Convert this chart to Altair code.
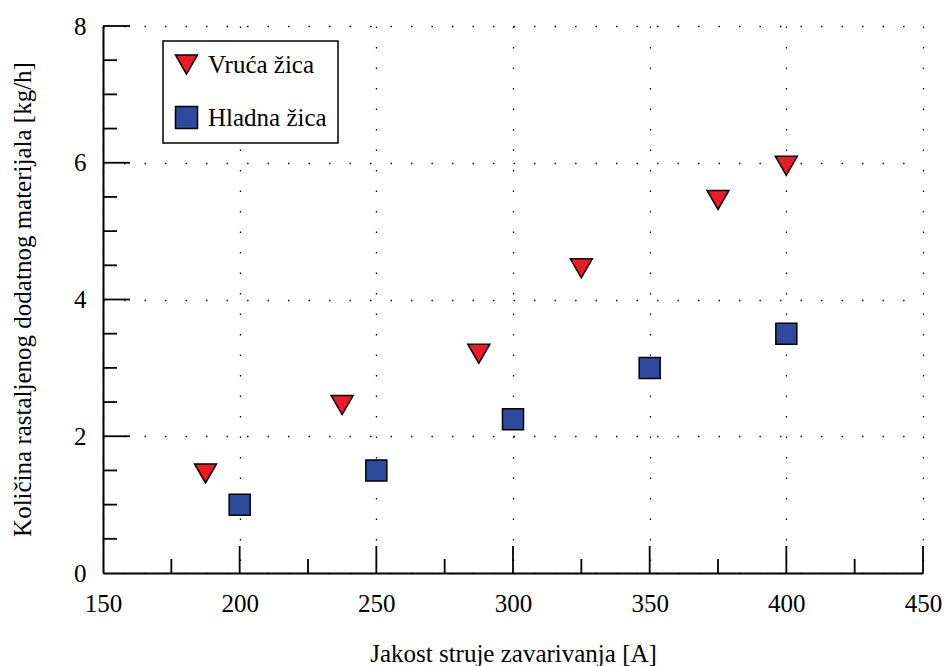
import altair as alt
import pandas as pd

# ---- data ----
hot_label = "Vruća žica"
cold_label = "Hladna žica"
hot_x = [187.5, 237.5, 287.5, 325, 375, 400]
hot_y = [1.5, 2.5, 3.25, 4.5, 5.5, 6.0]
cold_x = [200, 250, 300, 350, 400]
cold_y = [1.0, 1.5, 2.25, 3.0, 3.5]

x_major = [200, 250, 300, 350, 400, 450]
x_minor = [175, 225, 275, 325, 375, 425]
y_major = [2, 4, 6, 8]
y_minor = [0.5, 1, 1.5, 2.5, 3, 3.5, 4.5, 5, 5.5, 6.5, 7, 7.5]
x_labels = [150, 200, 250, 300, 350, 400, 450]
y_labels = [0, 2, 4, 6, 8]

x_title = "Jakost struje zavarivanja [A]"
y_title = "Količina rastaljenog dodatnog materijala [kg/h]"

FONT = "Liberation Serif"
W, H = 820, 547

hot = pd.DataFrame({"x": hot_x, "y": hot_y, "s": hot_label})
cold = pd.DataFrame({"x": cold_x, "y": cold_y, "s": cold_label})

xs = alt.Scale(domain=[150, 450], nice=False, zero=False)
ys = alt.Scale(domain=[0, 8], nice=False, zero=False)

dom = [hot_label, cold_label]
fill_scale = alt.Scale(domain=dom, range=["#ED1C24", "#2E4A9E"])
stroke_scale = alt.Scale(domain=dom, range=["black", "black"])
shape_scale = alt.Scale(domain=dom, range=["triangle-down", "square"])

legend = alt.Legend(
    title=None, orient="none", legendX=60, legendY=15,
    labelFont=FONT, labelFontSize=25, labelColor="black",
    symbolSize=484, symbolStrokeWidth=1.5,
    symbolOpacity=1, labelOffset=9, padding=11, rowPadding=25,
    strokeColor="black", fillColor="white",
)

x_axis = alt.Axis(
    values=x_labels, title=x_title, tickSize=0, labelPadding=18,
    labelFlush=False, labelOverlap=False,
    grid=True, gridDash=[1.5, 19], gridColor="black", gridWidth=1.3, gridOpacity=1,
    domainColor="black", domainWidth=2,
    labelFont=FONT, labelFontSize=25, labelColor="black",
    titleFont=FONT, titleFontSize=25, titleFontWeight="normal", titleColor="black",
    titleBaseline="alphabetic", titleY=88, titleX=W / 2, titleAnchor="middle",
)
y_axis = alt.Axis(
    values=y_labels, title=y_title, tickSize=0, labelPadding=17,
    labelFlush=False, labelOverlap=False,
    grid=True, gridDash=[1.5, 19], gridColor="black", gridWidth=1.3, gridOpacity=1,
    domainColor="black", domainWidth=2,
    labelFont=FONT, labelFontSize=25, labelColor="black",
    titleFont=FONT, titleFontSize=25, titleFontWeight="normal", titleColor="black",
    titleBaseline="alphabetic", titleX=-73, titleY=273, titleAngle=270,
    titleAnchor="middle",
)

def points(df, size, yoff):
    return alt.Chart(df).mark_point(
        filled=True, size=size, strokeWidth=1.5, opacity=1, yOffset=yoff
    ).encode(
        x=alt.X("x:Q", scale=xs, axis=x_axis),
        y=alt.Y("y:Q", scale=ys, axis=y_axis),
        fill=alt.Fill("s:N", scale=fill_scale, legend=legend),
        stroke=alt.Stroke("s:N", scale=stroke_scale, legend=legend),
        shape=alt.Shape("s:N", scale=shape_scale, legend=legend),
    )

def xticks(vals, length):
    return alt.Chart(pd.DataFrame({"x": vals})).mark_rule(
        color="black", strokeWidth=1.8
    ).encode(
        x=alt.X("x:Q", scale=xs, axis=x_axis),
        y=alt.value(H),
        y2=alt.value(H - length),
    )

def yticks(vals, length):
    return alt.Chart(pd.DataFrame({"y": vals})).mark_rule(
        color="black", strokeWidth=1.8
    ).encode(
        y=alt.Y("y:Q", scale=ys, axis=y_axis),
        x=alt.value(0),
        x2=alt.value(length),
    )

chart = alt.layer(
    points(hot, 484, 3), points(cold, 441, 0),
    xticks(x_major, 27), xticks(x_minor, 14),
    yticks(y_major, 27), yticks(y_minor, 14),
).properties(
    width=W, height=H,
    autosize=alt.AutoSizeParams(type="none"),
    padding={"left": 103, "top": 26, "right": 21, "bottom": 93},
    background="white",
).configure(
    font=FONT
).configure_axis(
    labelFont=FONT, titleFont=FONT, labelFontSize=25, titleFontSize=25,
    labelColor="black", titleColor="black", titleFontWeight="normal",
    labelFlush=False,
).configure_view(strokeWidth=0).configure_legend(strokeWidth=1.5)

chart.save("out.html", embed_options={"renderer": "svg", "actions": False})
